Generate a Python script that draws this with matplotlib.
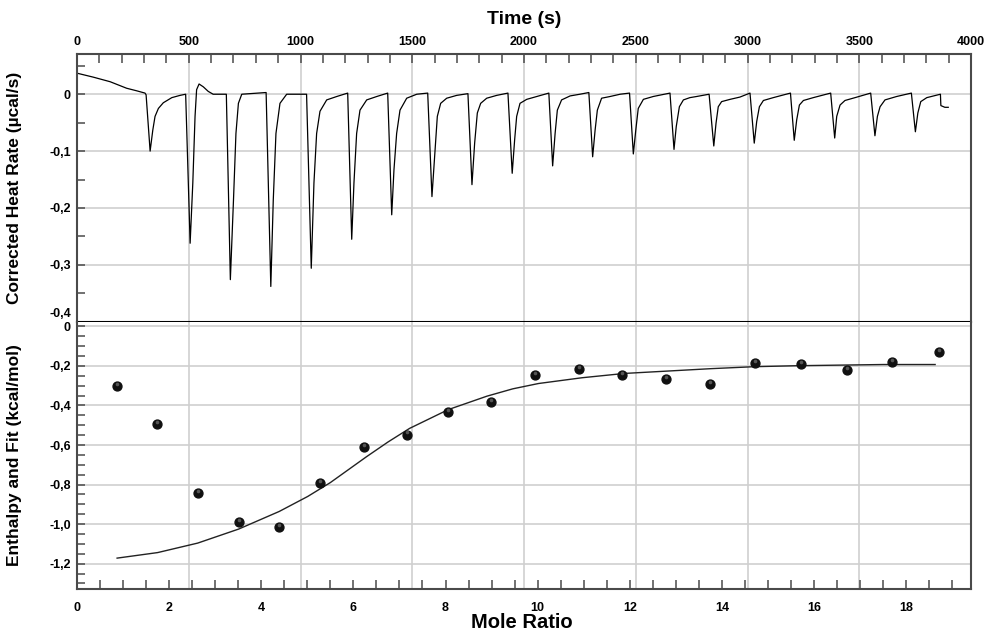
import matplotlib
matplotlib.use("Agg")
import matplotlib.pyplot as plt
import matplotlib.transforms as mtransforms
from matplotlib.ticker import MultipleLocator, FuncFormatter

plt.rcParams['font.family'] = ['Liberation Sans', 'DejaVu Sans']
plt.rcParams['font.weight'] = 'bold'
plt.rcParams['axes.labelweight'] = 'bold'

# raw thermogram (time in s, heat rate in µcal/s)
time_s = [0, 73, 148, 222, 267, 304, 309,
          327, 339, 349, 364, 386, 424, 461, 486,
          506, 518, 528, 535, 546, 565, 587, 609, 668,
          686, 700, 711, 722, 737, 846,
          867, 878, 890, 908, 938, 1027,
          1048, 1060, 1072, 1087, 1117, 1162, 1211,
          1229, 1239, 1251, 1266, 1296, 1341, 1390,
          1408, 1418, 1430, 1445, 1475, 1520, 1569,
          1588, 1602, 1612, 1627, 1654, 1699, 1749,
          1767, 1779, 1791, 1806, 1833, 1878, 1928,
          1947, 1958, 1967, 1982, 2012, 2057, 2111,
          2128, 2139, 2149, 2168, 2206, 2250, 2290,
          2307, 2318, 2328, 2347, 2385, 2430, 2472,
          2489, 2500, 2511, 2534, 2578, 2653,
          2671, 2681, 2695, 2713, 2742, 2772, 2828,
          2849, 2859, 2869, 2884, 2922, 2966, 3011,
          3030, 3041, 3053, 3071, 3115, 3192,
          3209, 3220, 3232, 3250, 3294, 3372,
          3390, 3399, 3414, 3436, 3481, 3551,
          3570, 3581, 3593, 3615, 3667, 3733,
          3751, 3762, 3775, 3802, 3863,
          3865, 3883, 3898]
heat_rate = [0.037, 0.030, 0.022, 0.0105, 0.006, 0.002, -0.001,
             -0.100, -0.063, -0.039, -0.025, -0.015, -0.006, -0.002, 0.000,
             -0.262, -0.156, -0.039, 0.008, 0.018, 0.013, 0.005, 0.000, 0.000,
             -0.326, -0.186, -0.069, -0.016, 0.000, 0.003,
             -0.338, -0.186, -0.069, -0.016, 0.000, 0.000,
             -0.306, -0.156, -0.069, -0.030, -0.010, -0.004, 0.002,
             -0.255, -0.156, -0.069, -0.028, -0.010, -0.004, 0.002,
             -0.212, -0.133, -0.069, -0.028, -0.007, 0.000, 0.002,
             -0.180, -0.098, -0.039, -0.016, -0.007, -0.002, 0.001,
             -0.159, -0.086, -0.033, -0.016, -0.007, -0.002, 0.002,
             -0.139, -0.080, -0.039, -0.016, -0.009, -0.004, 0.002,
             -0.126, -0.069, -0.028, -0.010, -0.003, 0.000, 0.003,
             -0.110, -0.063, -0.028, -0.007, -0.004, 0.000, 0.002,
             -0.105, -0.063, -0.025, -0.009, -0.004, 0.002,
             -0.097, -0.057, -0.022, -0.010, -0.006, -0.004, 0.000,
             -0.091, -0.051, -0.022, -0.013, -0.009, -0.005, 0.002,
             -0.086, -0.048, -0.022, -0.011, -0.006, 0.002,
             -0.081, -0.045, -0.019, -0.011, -0.006, 0.002,
             -0.077, -0.039, -0.019, -0.011, -0.006, 0.002,
             -0.073, -0.039, -0.022, -0.010, -0.004, 0.002,
             -0.066, -0.033, -0.013, -0.006, 0.000,
             -0.020, -0.023, -0.023]

# integrated heats per injection
mole_ratio = [0.87, 1.73, 2.62, 3.51, 4.39, 5.28, 6.23, 7.16, 8.06, 8.99,
              9.94, 10.89, 11.84, 12.79, 13.75, 14.73, 15.71, 16.71, 17.70, 18.72]
enthalpy = [-0.302, -0.492, -0.845, -0.990, -1.015, -0.792, -0.608, -0.547, -0.432, -0.382,
            -0.247, -0.216, -0.247, -0.267, -0.291, -0.186, -0.191, -0.221, -0.181, -0.130]

# fitted curve
fit_ratio = [0.87, 1.75, 2.62, 3.51, 4.39, 5.01, 5.5, 6.28, 6.75, 7.22, 8.06, 8.90,
             9.46, 10.02, 10.96, 11.89, 12.83, 13.76, 14.70, 15.64, 16.57, 17.51, 18.63]
fit_enthalpy = [-1.172, -1.144, -1.096, -1.025, -0.936, -0.860, -0.790, -0.660, -0.585,
                -0.516, -0.421, -0.353, -0.316, -0.289, -0.260, -0.238, -0.226, -0.214,
                -0.204, -0.199, -0.196, -0.193, -0.193]

spine_col = '#4a4a4a'
grid_col = '#cfcfcf'
tick_fs = 9


def comma(v, pos):
    if abs(v) < 1e-9:
        return '0'
    return f'{v:.1f}'.replace('.', ',')


fig = plt.figure(figsize=(9.94, 6.37), dpi=100)
rect_top = [0.0775, 0.4945, 0.8994, 0.4207]
rect_bot = [0.0775, 0.0754, 0.8994, 0.4191]

# ---- top panel: raw heat rate vs time
ax1 = fig.add_axes(rect_top)
ax1.plot(time_s, heat_rate, color='black', lw=0.9)
ax1.set_xlim(0, 4000)
ax1.set_ylim(-0.4005, 0.0707)
ax1.xaxis.set_major_locator(MultipleLocator(500))
ax1.xaxis.set_minor_locator(MultipleLocator(100))
ax1.yaxis.set_major_locator(MultipleLocator(0.1))
ax1.yaxis.set_minor_locator(MultipleLocator(0.05))
ax1.yaxis.set_major_formatter(FuncFormatter(comma))
ax1.xaxis.tick_top()
ax1.tick_params(axis='x', which='both', direction='in', length=6.5, width=1.1,
                color=spine_col, top=True, bottom=False, labeltop=True,
                labelbottom=False, pad=4, labelsize=tick_fs)
ax1.tick_params(axis='y', which='both', direction='in', length=5.5, width=1.1,
                color=spine_col, right=False, pad=4.5, labelsize=tick_fs)
ax1.grid(which='major', color=grid_col, lw=1.2)
ax1.set_axisbelow(True)
for s in ['top', 'left', 'right']:
    ax1.spines[s].set_color(spine_col)
    ax1.spines[s].set_linewidth(1.5)
ax1.spines['bottom'].set_color('black')
ax1.spines['bottom'].set_linewidth(1.5)
ax1.set_ylabel('Corrected Heat Rate (µcal/s)', fontsize=12.5, fontweight='bold')
ax1.yaxis.set_label_coords(-0.0615, 0.5)

# ---- bottom panel: grid of the time axis behind the enthalpy plot
axg = fig.add_axes(rect_bot, zorder=0)
axg.set_xlim(0, 4000)
axg.xaxis.set_major_locator(MultipleLocator(500))
axg.grid(axis='x', color=grid_col, lw=1.2)
axg.tick_params(which='both', left=False, bottom=False, labelleft=False, labelbottom=False)
for s in axg.spines.values():
    s.set_visible(False)

ax2 = fig.add_axes(rect_bot, zorder=1)
ax2.patch.set_alpha(0)
ax2.plot(fit_ratio, fit_enthalpy, color='#222222', lw=1.0)
ax2.plot(mole_ratio, enthalpy, 'o', color='#101010', ms=6.4, mec='#101010')
shine = ax2.transData + mtransforms.ScaledTranslation(0, 1.5 / 72, fig.dpi_scale_trans)
ax2.plot(mole_ratio, enthalpy, 'o', color='#9a9a9a', ms=2.6, mec='none', alpha=0.5,
         transform=shine)
ax2.set_xlim(0, 19.41)
ax2.set_ylim(-1.328, 0.022)
ax2.xaxis.set_major_locator(MultipleLocator(2))
ax2.xaxis.set_minor_locator(MultipleLocator(0.5))
ax2.yaxis.set_major_locator(MultipleLocator(0.2))
ax2.yaxis.set_minor_locator(MultipleLocator(0.05))
ax2.yaxis.set_major_formatter(FuncFormatter(comma))
ax2.tick_params(axis='x', which='both', direction='in', length=6.5, width=1.1,
                color=spine_col, top=False, pad=9.5, labelsize=tick_fs)
ax2.tick_params(axis='y', which='both', direction='in', length=5.5, width=1.1,
                color=spine_col, right=False, pad=4.5, labelsize=tick_fs)
ax2.grid(axis='y', which='major', color=grid_col, lw=1.2)
ax2.spines['top'].set_visible(False)
for s in ['bottom', 'left', 'right']:
    ax2.spines[s].set_color(spine_col)
    ax2.spines[s].set_linewidth(1.5)
ax2.set_ylabel('Enthalpy and Fit (kcal/mol)', fontsize=12.5, fontweight='bold')
ax2.yaxis.set_label_coords(-0.0615, 0.5)

fig.text(524 / 994, 1 - 20 / 637, 'Time (s)', ha='center', va='center', fontsize=14)
fig.text(522 / 994, 1 - 623 / 637, 'Mole Ratio', ha='center', va='center', fontsize=14.5)

# lift the lowest label of the top panel so it sits above the "0" of the lower panel
fig.canvas.draw()
lift = mtransforms.ScaledTranslation(0, 1.5 / 72, fig.dpi_scale_trans)
for tick in ax1.yaxis.get_major_ticks():
    if abs(tick.get_loc() + 0.4) < 1e-6:
        tick.label1.set_va('bottom')
        tick.label1.set_transform(tick.label1.get_transform() + lift)

fig.savefig('out.png', dpi=100)
